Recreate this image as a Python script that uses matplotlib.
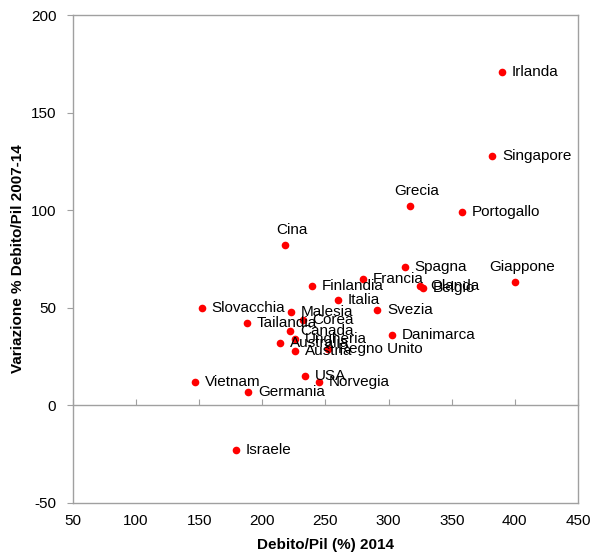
import matplotlib.pyplot as plt

plt.rcParams['font.family'] = ['Liberation Sans', 'DejaVu Sans']
plt.rcParams['axes.unicode_minus'] = False

# debt/GDP 2014 (x) vs change in debt/GDP 2007-14 (y)
paesi = ['Irlanda', 'Singapore', 'Grecia', 'Portogallo', 'Giappone', 'Spagna',
         'Francia', 'Olanda', 'Belgio', 'Finlandia', 'Italia', 'Svezia',
         'Slovacchia', 'Malesia', 'Corea', 'Tailandia', 'Canada', 'Danimarca',
         'Ungheria', 'Australia', 'Austria', 'Regno Unito', 'USA', 'Norvegia',
         'Vietnam', 'Germania', 'Cina', 'Israele']
debito_2014 = [390, 382, 317, 358, 400, 313, 280, 325, 327, 239, 260, 291,
               152, 223, 232, 188, 222, 303, 226, 214, 226, 252, 234, 245,
               147, 189, 218, 179]
variazione = [171, 128, 102, 99, 63, 71, 65, 61, 60, 61, 54, 49,
              50, 48, 44, 42, 38, 36, 34, 32, 28, 29, 15, 12,
              12, 7, 82, -23]
# labels placed above the dot instead of to the right
sopra = {'Grecia', 'Giappone', 'Cina'}

fig = plt.figure(figsize=(5.91, 5.57), dpi=100)
ax = fig.add_axes([0.1235, 0.097, 0.8545, 0.876])

ax.plot(debito_2014, variazione, 'o', color='#FF0000', markersize=5.5,
        markeredgewidth=0, zorder=3)

for nome, x, y in zip(paesi, debito_2014, variazione):
    if nome in sopra:
        ax.annotate(nome, (x, y), xytext=(5, 6), textcoords='offset points',
                    ha='center', va='bottom', fontsize=11)
    else:
        ax.annotate(nome, (x, y), xytext=(7, 0), textcoords='offset points',
                    ha='left', va='center', fontsize=11)

ax.set_xlim(50, 450)
ax.set_ylim(-50, 200)
ax.set_xticks(range(50, 451, 50))
ax.set_yticks(range(-50, 201, 50))

grigio = '#A0A0A0'
for s in ax.spines.values():
    s.set_color(grigio)
    s.set_linewidth(1)
ax.tick_params(axis='y', direction='out', length=4, color=grigio, labelsize=11, pad=8)
ax.tick_params(axis='x', length=0, labelsize=11, pad=8)

# horizontal axis drawn through y = 0 with its own tick marks
asse0 = ax.secondary_xaxis(0.2)
asse0.set_xticks(range(50, 451, 50))
asse0.set_xticklabels([])
asse0.tick_params(direction='in', length=4, color=grigio)
asse0.spines['bottom'].set_color(grigio)
asse0.spines['bottom'].set_linewidth(1)

ax.set_xlabel('Debito/Pil (%) 2014', fontsize=11, fontweight='bold', labelpad=7)
ax.set_ylabel('Variazione % Debito/Pil 2007-14', fontsize=11, fontweight='bold', labelpad=4)

fig.savefig('out.png', dpi=100)
